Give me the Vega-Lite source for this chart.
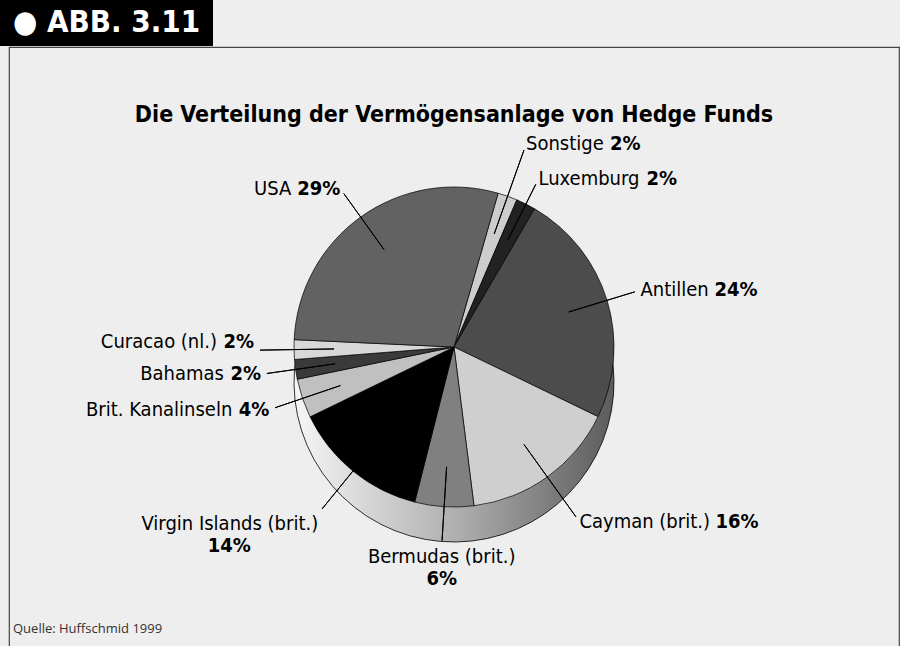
{
  "$schema": "https://vega.github.io/schema/vega-lite/v6.json",
  "background": "#eeeeee",
  "padding": 0,
  "spacing": 0,
  "config": {
    "view": {"stroke": null},
    "font": "DejaVu Sans Condensed, DejaVu Sans, sans-serif",
    "concat": {"spacing": 0}
  },
  "title": {
    "text": "Quelle: Huffschmid 1999",
    "orient": "bottom",
    "anchor": "start",
    "offset": -25,
    "dx": 13,
    "font": "Open Sans",
    "fontSize": 13,
    "fontWeight": "normal",
    "color": "#333333"
  },
  "vconcat": [
    {
      "width": 213,
      "height": 46,
      "view": {"fill": "#000000", "stroke": null},
      "data": {"values": [{"label": "● ABB. 3.11"}]},
      "mark": {"type": "text", "color": "#ffffff", "fontSize": 31, "fontWeight": "bold", "align": "center", "baseline": "middle"},
      "encoding": {"text": {"field": "label", "type": "nominal"}}
    },
    {
      "spacing": 0,
      "hconcat": [
        {
          "width": 8,
          "height": 600,
          "data": {"values": [{"t": ""}]},
          "mark": {"type": "text"},
          "encoding": {"text": {"field": "t", "type": "nominal"}}
        },
        {
          "width": 890,
          "height": 600,
          "view": {"stroke": "#444444", "strokeWidth": 1.2},
          "title": {
            "text": "Die Verteilung der Vermögensanlage von Hedge Funds",
            "fontSize": 23,
            "fontWeight": "bold",
            "color": "#000000",
            "anchor": "middle",
            "offset": -80
          },
          "data": {
            "values": [
              {"rank": 1, "name": "Sonstige", "value": 0.02},
              {"rank": 2, "name": "Luxemburg", "value": 0.02},
              {"rank": 3, "name": "Antillen", "value": 0.24},
              {"rank": 4, "name": "Cayman (brit.)", "value": 0.16},
              {"rank": 5, "name": "Bermudas (brit.)", "value": 0.06},
              {"rank": 6, "name": "Virgin Islands (brit.)", "value": 0.14},
              {"rank": 7, "name": "Brit. Kanalinseln", "value": 0.04},
              {"rank": 8, "name": "Bahamas", "value": 0.02},
              {"rank": 9, "name": "Curacao (nl.)", "value": 0.02},
              {"rank": 10, "name": "USA", "value": 0.29}
            ]
          },
          "layer": [
            {
              "transform": [{"aggregate": [{"op": "sum", "field": "value", "as": "total"}]}],
              "mark": {
                "type": "arc",
                "outerRadius": 160,
                "yOffset": 35,
                "stroke": "#000000",
                "strokeWidth": 0.8,
                "fill": {
                  "gradient": "linear",
                  "x1": 0, "y1": 0, "x2": 1, "y2": 0,
                  "stops": [
                    {"offset": 0, "color": "#f6f6f6"},
                    {"offset": 0.5, "color": "#b0b0b0"},
                    {"offset": 1, "color": "#5c5c5c"}
                  ]
                }
              },
              "encoding": {
                "theta": {"field": "total", "type": "quantitative", "scale": {"range": [0.2793, 6.5625]}}
              }
            },
            {
              "mark": {"type": "arc", "outerRadius": 160, "stroke": "#000000", "strokeWidth": 0.7},
              "encoding": {
                "theta": {"field": "value", "type": "quantitative", "stack": true, "scale": {"range": [0.2793, 6.5625]}},
                "order": {"field": "rank", "type": "quantitative"},
                "color": {
                  "field": "name",
                  "type": "nominal",
                  "legend": null,
                  "scale": {
                    "domain": ["Sonstige", "Luxemburg", "Antillen", "Cayman (brit.)", "Bermudas (brit.)", "Virgin Islands (brit.)", "Brit. Kanalinseln", "Bahamas", "Curacao (nl.)", "USA"],
                    "range": ["#cdcdcd", "#222222", "#4c4c4c", "#cfcfcf", "#808080", "#000000", "#c0c0c0", "#3a3a3a", "#d8d8d8", "#626262"]
                  }
                }
              }
            },
            {
              "mark": {
                "type": "arc",
                "innerRadius": 120,
                "outerRadius": {"expr": "[209,182,189,209,194,209,189,189,194,189][datum.rank-1]"},
                "padAngle": 3,
                "fill": null,
                "stroke": "#000000",
                "strokeWidth": 1
              },
              "encoding": {
                "theta": {"field": "value", "type": "quantitative", "stack": true, "scale": {"range": [0.2793, 6.5625]}},
                "order": {"field": "rank", "type": "quantitative"},
                "detail": {"field": "name", "type": "nominal"}
              }
            },
            {
              "mark": {
                "type": "text",
                "fontSize": 20,
                "color": "#000000",
                "radius": {"expr": "[215,188,195,215,200,215,195,195,200,195][datum.rank-1]"},
                "align": {"expr": "datum.rank <= 4 ? 'left' : (datum.rank == 5 ? 'center' : 'right')"},
                "baseline": {"expr": "(datum.rank == 5 || datum.rank == 6) ? 'top' : 'middle'"},
                "dx": {"expr": "datum.rank >= 7 ? (datum.value >= 0.1 ? -49 : -37) : 0"},
                "dy": {"expr": "datum.rank == 9 ? -8 : 0"}
              },
              "encoding": {
                "theta": {"field": "value", "type": "quantitative", "stack": true, "scale": {"range": [0.2793, 6.5625]}},
                "order": {"field": "rank", "type": "quantitative"},
                "detail": {"field": "name", "type": "nominal"},
                "text": {"field": "name", "type": "nominal"}
              }
            },
            {
              "mark": {
                "type": "text",
                "fontSize": 20,
                "fontWeight": "bold",
                "color": "#000000",
                "radius": {"expr": "[215,188,195,215,200,215,195,195,200,195][datum.rank-1]"},
                "align": {"expr": "datum.rank <= 4 ? 'left' : ((datum.rank == 5 || datum.rank == 6) ? 'center' : 'right')"},
                "baseline": {"expr": "(datum.rank == 5 || datum.rank == 6) ? 'top' : 'middle'"},
                "dx": {"expr": "datum.rank <= 4 ? [84,108,74,136][datum.rank-1] : (datum.rank == 6 ? -89 : 0)"},
                "dy": {"expr": "datum.rank == 9 ? -8 : ((datum.rank == 5 || datum.rank == 6) ? 22 : 0)"}
              },
              "encoding": {
                "theta": {"field": "value", "type": "quantitative", "stack": true, "scale": {"range": [0.2793, 6.5625]}},
                "order": {"field": "rank", "type": "quantitative"},
                "detail": {"field": "name", "type": "nominal"},
                "text": {"field": "value", "type": "quantitative", "format": ".0%"}
              }
            }
          ]
        }
      ]
    }
  ]
}
